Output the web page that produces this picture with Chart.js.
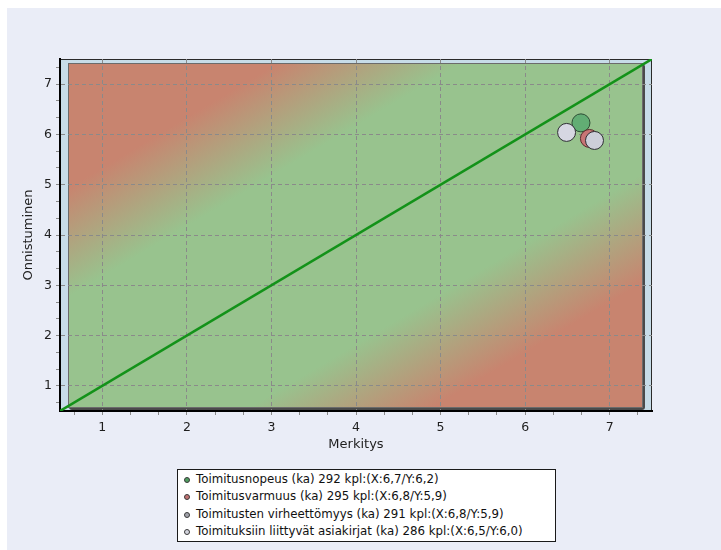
<!DOCTYPE html>
<html lang="fi">
<head>
<meta charset="utf-8">
<title>Merkitys / Onnistuminen</title>
<script src="https://cdn.jsdelivr.net/npm/chart.js@4.4.1/dist/chart.umd.min.js"></script>
<style>
  html, body { margin: 0; padding: 0; background: #ffffff; }
  body { width: 721px; height: 550px; position: relative; overflow: hidden; }
  #panel { position: absolute; left: 7px; top: 8px; right: 0; bottom: 0; background: #eaedf7; }
  #chart { position: absolute; left: 0; top: 0; }
  #legend {
    position: absolute; left: 177px; top: 469px; width: 377px; height: 70px;
    border: 1px solid #1a1a1a; background: #ffffff;
    font-family: "DejaVu Sans", Verdana, sans-serif; font-size: 11.8px; color: #111;
    padding-top: 0.5px; box-sizing: content-box;
  }
  #legend .row { height: 17.5px; line-height: 17.5px; white-space: nowrap; position: relative; padding-left: 18px; }
  #legend .dot {
    position: absolute; left: 6px; top: 6px; width: 4px; height: 4px;
    border: 1px solid #3a3a3a; border-radius: 50%;
  }
</style>
</head>
<body>
<div id="panel"></div>
<canvas id="chart" width="721" height="550"></canvas>
<div id="legend"></div>
<script>
// Series: average importance (Merkitys, x) and success (Onnistuminen, y)
const categories = ['Toimitusnopeus', 'Toimitusvarmuus', 'Toimitusten virheettömyys', 'Toimituksiin liittyvät asiakirjat'];
const counts = [292, 295, 291, 286];
const importance = [6.66, 6.76, 6.82, 6.49];
const success = [6.23, 5.92, 5.88, 6.04];

// Axis ticks and range
const xTicks = [1, 2, 3, 4, 5, 6, 7];
const yTicks = [1, 2, 3, 4, 5, 6, 7];
const axisMin = 0.5;
const axisMax = 7.5;
const minorPerUnit = 3;

// Reference diagonal (x = y)
const diagonal = [axisMin, axisMax];

// Styling per series
const seriesStyle = [
  { fill: '#62ad74', border: '#2d4d35', marker: '#4f9d60' },
  { fill: '#c87575', border: '#5b2c2c', marker: '#c07272' },
  { fill: '#cdcfd9', border: '#2f2f35', marker: '#a2a3ab' },
  { fill: '#d6d7e2', border: '#2f2f35', marker: '#d4d5de' }
];

const fmt = v => v.toFixed(1).replace('.', ',');
const labelFor = i => `${categories[i]} (ka) ${counts[i]} kpl:(X:${fmt(importance[i])}/Y:${fmt(success[i])})`;

function tickList(major) {
  const out = [];
  for (let v = major[0] - 1; v <= major[major.length - 1] + 1; v++) {
    for (let k = 0; k < minorPerUnit; k++) {
      const val = v + k / minorPerUnit;
      if (val > axisMin && val < axisMax) out.push(+val.toFixed(4));
    }
  }
  return out;
}
const isMajor = v => Math.abs(v - Math.round(v)) < 1e-6;

// Plot background: pale blue frame, bevelled inner panel with a
// red-green-red band running across the x = y diagonal.
const plotBackground = {
  id: 'plotBackground',
  beforeDraw(chart) {
    const { ctx, chartArea: a } = chart;
    ctx.save();
    ctx.fillStyle = '#c7dce8';
    ctx.fillRect(a.left, a.top, a.right - a.left, a.bottom - a.top);

    const x0 = a.left + 8, y0 = a.top + 4, x1 = a.right - 9, y1 = a.bottom - 3;
    // shadow to the right / bottom
    ctx.fillStyle = '#4a4a4a';
    ctx.beginPath();
    ctx.roundRect(x0 + 1, y0 + 1, x1 - x0 + 1, y1 - y0 + 1, 3);
    ctx.fill();

    const cx = (a.left + a.right) / 2, cy = (a.top + a.bottom) / 2;
    const ux = a.right - a.left, uy = -(a.bottom - a.top);
    const len = Math.hypot(ux, uy);
    const nx = -uy / len, ny = ux / len;
    const d = Math.abs((a.left - cx) * nx + (a.top - cy) * ny);
    const g = ctx.createLinearGradient(cx - nx * d, cy - ny * d, cx + nx * d, cy + ny * d);
    g.addColorStop(0, '#c8846f');
    g.addColorStop(0.19, '#c8846f');
    g.addColorStop(0.345, '#98c38e');
    g.addColorStop(0.655, '#98c38e');
    g.addColorStop(0.81, '#c8846f');
    g.addColorStop(1, '#c8846f');
    ctx.fillStyle = g;
    ctx.fillRect(x0, y0, x1 - x0, y1 - y0);
    ctx.strokeStyle = '#6b6b6b';
    ctx.lineWidth = 1;
    ctx.strokeRect(x0 + 0.5, y0 + 0.5, x1 - x0 - 1, y1 - y0 - 1);

    // outer edge (top / right); left and bottom come from the axis borders
    ctx.strokeStyle = '#2a2a2a';
    ctx.strokeRect(a.left + 0.5, a.top + 0.5, a.right - a.left - 1, a.bottom - a.top - 1);
    ctx.restore();
  }
};

const datasets = categories.map((name, i) => ({
  type: 'scatter',
  label: name,
  data: [{ x: importance[i], y: success[i] }],
  backgroundColor: seriesStyle[i].fill,
  borderColor: seriesStyle[i].border,
  borderWidth: 1,
  pointRadius: 9,
  pointHoverRadius: 9,
  order: categories.length - i
}));
datasets.push({
  type: 'line',
  label: 'x = y',
  data: diagonal.map(v => ({ x: v, y: v })),
  borderColor: '#139219',
  borderWidth: 2.5,
  pointRadius: 0,
  fill: false,
  order: 10
});

const axisFont = { family: '"DejaVu Sans", Verdana, sans-serif', size: 12.5 };
const gridCommon = {
  color: c => (c.tick && isMajor(c.tick.value)) ? '#8a8a8a' : 'rgba(0,0,0,0)',
  lineWidth: 1,
  tickColor: '#8a8a8a',
  tickLength: 4,
  tickBorderDash: []
};

new Chart(document.getElementById('chart'), {
  type: 'scatter',
  data: { datasets },
  plugins: [plotBackground],
  options: {
    responsive: false,
    animation: false,
    devicePixelRatio: 1,
    layout: { padding: { left: 21, top: 59, right: 69, bottom: 98 } },
    plugins: { legend: { display: false }, tooltip: { enabled: false } },
    scales: {
      x: {
        type: 'linear', min: axisMin, max: axisMax,
        afterBuildTicks: s => { s.ticks = tickList(xTicks).map(v => ({ value: v })); },
        afterFit: s => { s.height = 41; },
        ticks: {
          autoSkip: false, maxRotation: 0, padding: 5, color: '#1e1e1e', font: axisFont,
          callback: v => isMajor(v) ? String(Math.round(v)) : ''
        },
        grid: gridCommon,
        border: { display: true, color: '#000000', width: 2, dash: [4, 3] },
        title: { display: true, text: 'Merkitys', color: '#1e1e1e', font: { ...axisFont, size: 13 }, padding: 0 }
      },
      y: {
        type: 'linear', min: axisMin, max: axisMax,
        afterBuildTicks: s => { s.ticks = tickList(yTicks).map(v => ({ value: v })); },
        afterFit: s => { s.width = 39; },
        ticks: {
          autoSkip: false, padding: 4, color: '#1e1e1e', font: axisFont,
          callback: v => isMajor(v) ? String(Math.round(v)) : ''
        },
        grid: gridCommon,
        border: { display: true, color: '#000000', width: 2, dash: [4, 3] },
        title: { display: true, text: 'Onnistuminen', color: '#1e1e1e', font: { ...axisFont, size: 13 }, padding: 0 }
      }
    }
  }
});

// Legend box below the plot
const legend = document.getElementById('legend');
categories.forEach((name, i) => {
  const row = document.createElement('div');
  row.className = 'row';
  const dot = document.createElement('span');
  dot.className = 'dot';
  dot.style.background = seriesStyle[i].marker;
  row.appendChild(dot);
  row.appendChild(document.createTextNode(labelFor(i)));
  legend.appendChild(row);
});
</script>
</body>
</html>
